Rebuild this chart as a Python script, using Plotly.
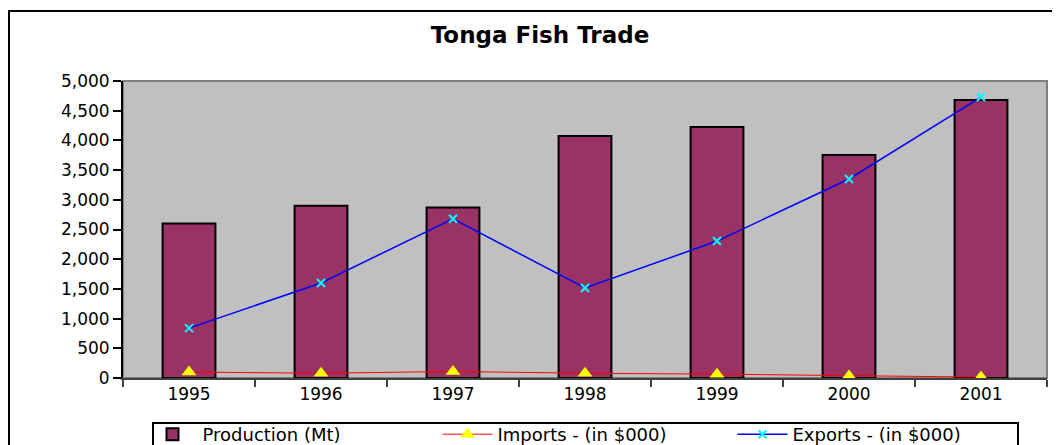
import plotly.graph_objects as go

years = ["1995", "1996", "1997", "1998", "1999", "2000", "2001"]
production = [2600, 2900, 2870, 4075, 4225, 3755, 4680]
imports = [100, 80, 110, 80, 65, 35, 15]
exports = [840, 1600, 2680, 1515, 2305, 3350, 4730]
yticks = [0, 500, 1000, 1500, 2000, 2500, 3000, 3500, 4000, 4500, 5000]

FONT = "DejaVu Sans, Arial, sans-serif"

fig = go.Figure()
fig.add_trace(go.Bar(
    x=years, y=production, name="Production (Mt)",
    marker=dict(color="#993366", line=dict(color="black", width=2)),
    width=0.4,
))
fig.add_trace(go.Scatter(
    x=years, y=imports, name="Imports - (in $000)", mode="lines+markers",
    line=dict(color="#ff0000", width=1),
    marker=dict(symbol="triangle-up", size=13, color="#ffff00", line=dict(width=0)),
))
fig.add_trace(go.Scatter(
    x=years, y=exports, name="Exports - (in $000)", mode="lines+markers",
    line=dict(color="#0000ff", width=1.5),
    marker=dict(symbol="x-thin", size=8, color="#00ffff", line=dict(color="#00ffff", width=2)),
))

# page body has an 8px margin; lay the figure out in window pixels
OFF = 8
W, H = 1060 - OFF, 445 - OFF
ml, mr = 123 - OFF, 13
mt, mb = 81 - OFF, H - (378 - OFF)
pw, ph = W - ml - mr, H - mt - mb

def px_x(px):
    return (px - OFF - ml) / pw

def px_y(py):
    return (H - mb - (py - OFF)) / ph

fig.update_layout(
    width=W, height=H,
    margin=dict(l=ml, r=mr, t=mt, b=mb, autoexpand=False),
    paper_bgcolor="white",
    plot_bgcolor="#c0c0c0",
    font=dict(family=FONT, color="black", size=17),
    title=dict(text="<b>Tonga Fish Trade</b>", x=px_x(540), xref="paper", xanchor="center",
               yref="container", y=1 - (35 - OFF) / H, yanchor="middle",
               font=dict(size=23, family=FONT)),
    showlegend=True,
    legend=dict(orientation="h", x=px_x(585), xanchor="center", yref="container",
                y=1 - (416 - OFF) / H, yanchor="top",
                borderwidth=0, bgcolor="rgba(0,0,0,0)",
                font=dict(size=18, family=FONT), itemwidth=50, entrywidth=230,
                tracegroupgap=0),
    bargap=0.6,
    xaxis=dict(type="category", tickson="boundaries", ticks="outside", ticklen=7,
               tickcolor="#404040", tickwidth=2, showline=True, linecolor="#404040", linewidth=2,
               showgrid=False, mirror=False, tickfont=dict(size=17), automargin=False),
    yaxis=dict(range=[0, 5000], tickvals=yticks, tickformat=",", ticks="outside", ticklen=8,
               tickcolor="black", tickwidth=2, showline=True, linecolor="black", linewidth=2,
               showgrid=False, zeroline=False, tickfont=dict(size=17), automargin=False),
    shapes=[
        dict(type="rect", xref="paper", yref="paper", x0=0, x1=1, y0=0, y1=1,
             line=dict(color="#808080", width=2), fillcolor="rgba(0,0,0,0)", layer="below"),
        dict(type="rect", xref="paper", yref="paper", x0=px_x(9), x1=px_x(1075),
             y0=px_y(460), y1=px_y(11), line=dict(color="black", width=2),
             fillcolor="rgba(0,0,0,0)"),
        dict(type="rect", xref="paper", yref="paper", x0=px_x(153), x1=px_x(1018),
             y0=px_y(460), y1=px_y(423), line=dict(color="black", width=2),
             fillcolor="white"),
    ],
)

fig.write_html("out.html")
